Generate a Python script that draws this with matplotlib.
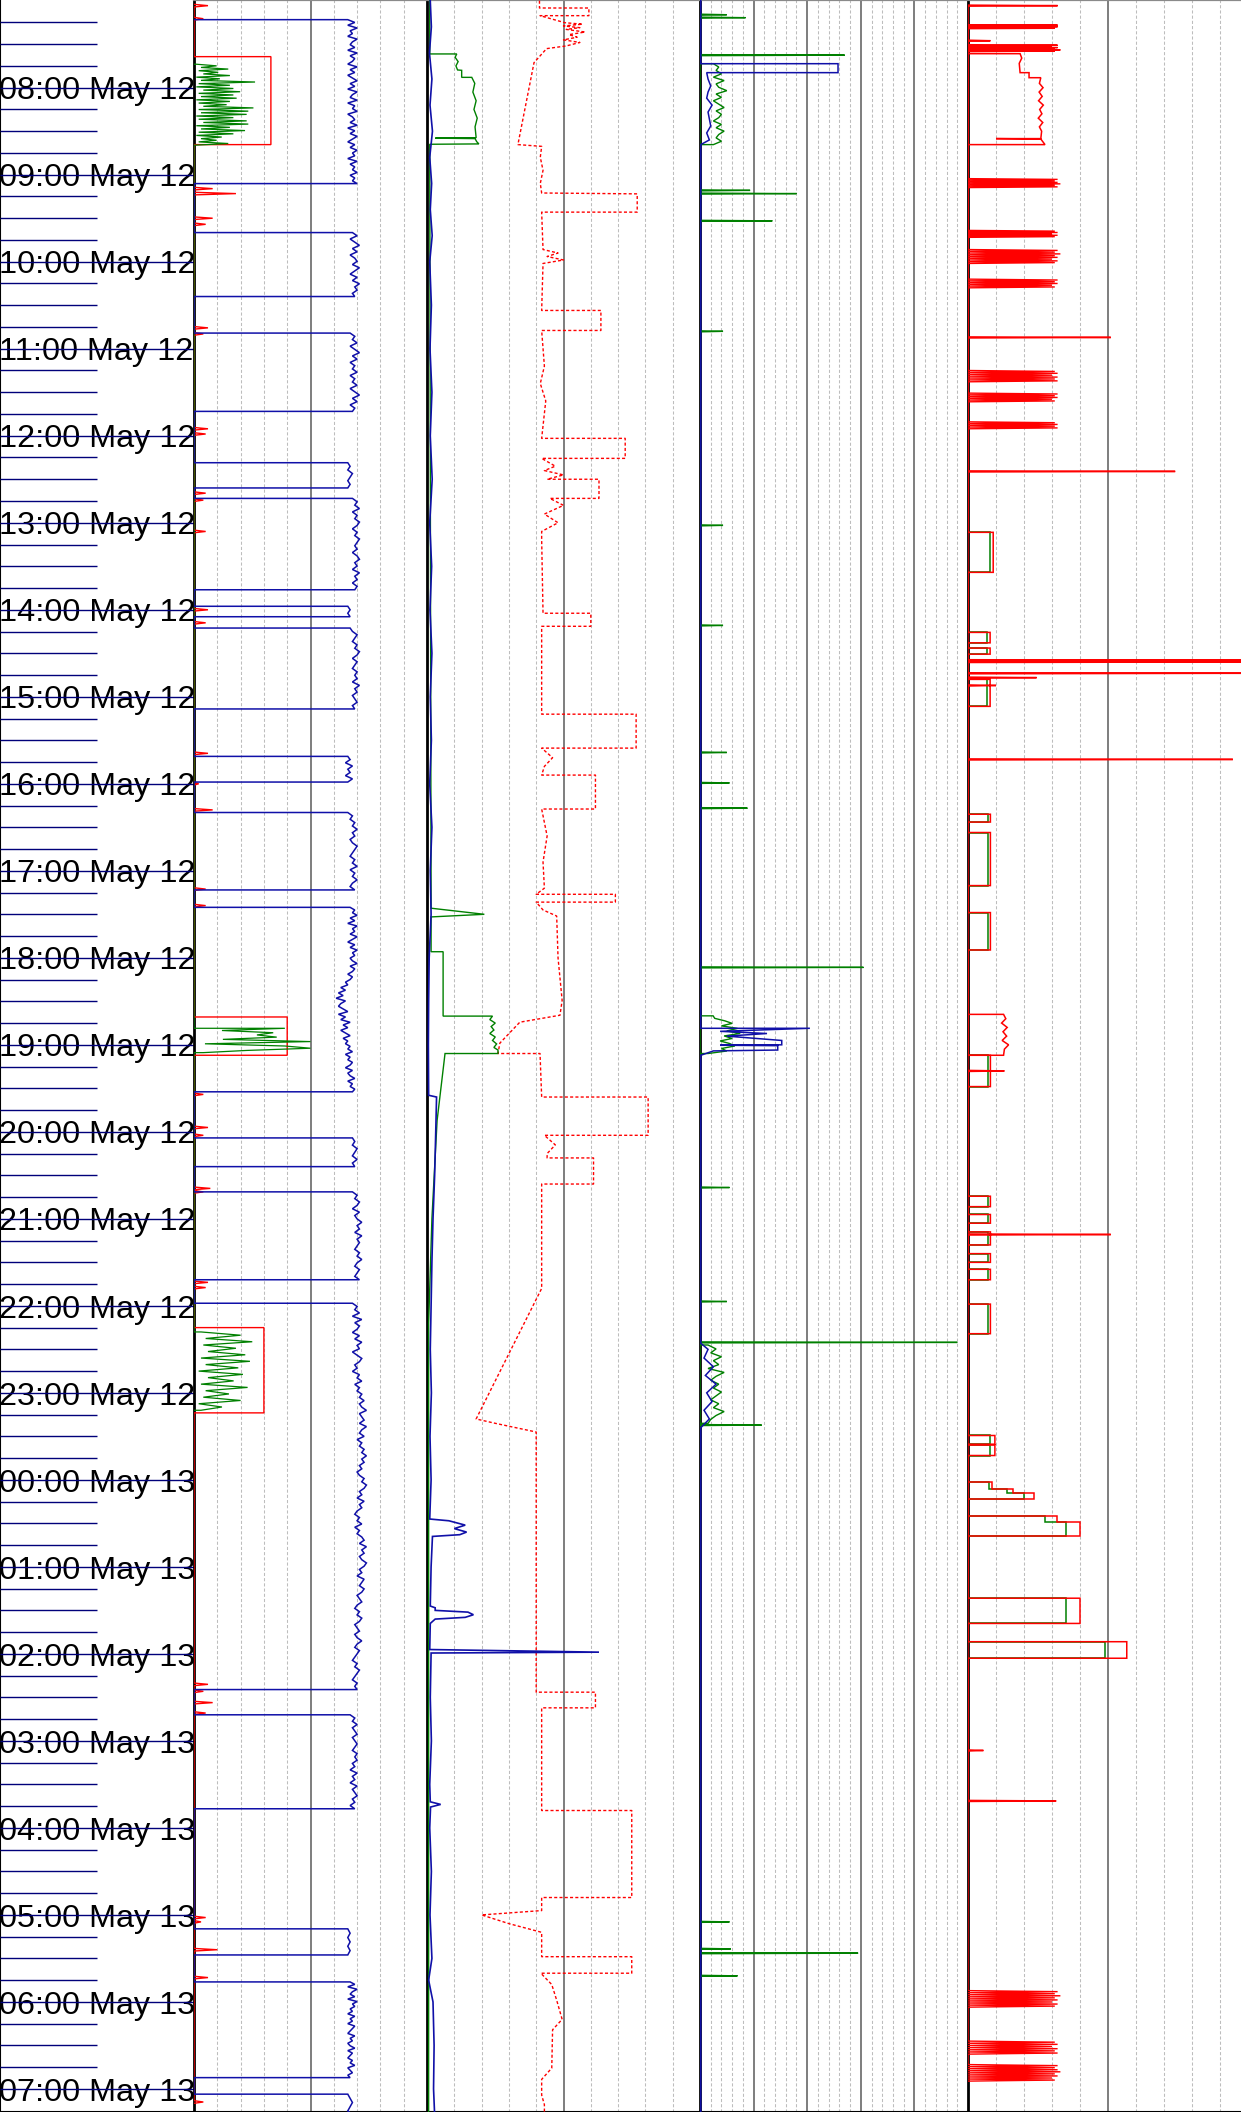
import numpy as np
import matplotlib
matplotlib.use("Agg")
import matplotlib.pyplot as plt

W, H = 1241, 2112
T_TOP, T_BOT = -0.008, 24.265   # hours after 07:00 May 12

# ---------------- time axis ----------------
hour_ticks = [float(h) for h in range(1, 25)]
hour_labels = ["08:00 May 12", "09:00 May 12", "10:00 May 12", "11:00 May 12",
               "12:00 May 12", "13:00 May 12", "14:00 May 12", "15:00 May 12",
               "16:00 May 12", "17:00 May 12", "18:00 May 12", "19:00 May 12",
               "20:00 May 12", "21:00 May 12", "22:00 May 12", "23:00 May 12",
               "00:00 May 13", "01:00 May 13", "02:00 May 13", "03:00 May 13",
               "04:00 May 13", "05:00 May 13", "06:00 May 13", "07:00 May 13"]
quarter_ticks = [0.25 * i for i in range(1, 97) if i % 4 != 0]

# ---------------- track 1 ----------------
p1_blue_on = [
    (0.218, 2.102, [66, 69, 66, 70, 67, 68, 66, 70, 68, 67, 69, 66, 70, 67, 69, 68, 66, 70, 67, 69,
                    66, 68, 70, 67, 69, 66, 70, 68, 67, 70, 66, 69, 68, 70, 66, 68, 69, 67, 70, 66,
                    69, 67, 70, 68, 66, 69, 67, 70, 68, 69, 66, 70, 67, 69, 68, 70, 67, 69, 68, 70]),
    (2.665, 3.40, [68, 70, 67, 69, 71, 68, 70, 67, 69, 70, 68, 71, 69, 67, 70, 68, 71, 69, 70, 68,
                   69]),
    (3.82, 4.72, [67, 69, 68, 70, 67, 69, 71, 68, 70, 67, 69, 68, 70, 67, 69, 68, 70, 67, 69, 71,
                  68, 70, 67, 69, 68]),
    (5.31, 5.60, [66, 67, 66, 68, 67, 66, 67, 66]),
    (5.72, 6.77, [68, 70, 69, 71, 68, 70, 69, 71, 70, 68, 70, 69, 71, 70, 69, 70, 68, 70, 71, 69,
                  70, 68, 71, 69, 70, 68, 70, 69]),
    (6.96, 7.08, [66, 67, 66, 67]),
    (7.21, 8.14, [67, 68, 70, 69, 68, 70, 69, 71, 70, 68, 70, 69, 68, 70, 69, 70, 68, 71, 69, 70,
                  68, 69, 70, 68, 69]),
    (8.685, 8.98, [66, 67, 65, 68, 66, 67, 65, 68, 66]),
    (9.33, 10.22, [66, 68, 67, 69, 68, 70, 68, 69, 67, 68, 70, 69, 68, 67, 69, 68, 70, 67, 69, 68,
                   70, 68, 67, 69]),
    (10.42, 12.54, [67, 69, 68, 70, 67, 69, 66, 70, 68, 69, 67, 70, 68, 66, 69, 67, 70, 68, 69, 67,
                    68, 70, 67, 69, 68, 66, 68, 67, 65, 66, 63, 65, 62, 64, 61, 65, 63, 62, 64, 66,
                    62, 65, 63, 67, 64, 66, 63, 65, 67, 64, 66, 65, 67, 66, 68, 65, 67, 66, 68, 67,
                    65, 68, 66, 67, 69, 66, 68, 67, 69, 68]),
    (13.07, 13.40, [68, 69, 68, 70, 69, 68, 70, 68, 69]),
    (13.69, 14.70, [68, 70, 69, 71, 70, 68, 71, 69, 70, 72, 70, 71, 69, 72, 70, 71, 70, 69, 71, 70,
                    72, 70, 69, 71, 70, 69, 71]),
    (14.97, 19.41, [68, 70, 69, 71, 68, 72, 69, 71, 70, 68, 71, 69, 72, 70, 71, 68, 70, 72, 71, 69,
                    70, 68, 71, 70, 72, 69, 71, 70, 72, 71, 73, 71, 72, 74, 71, 72, 73, 71, 74, 72,
                    71, 73, 70, 72, 71, 73, 72, 74, 72, 73, 71, 72, 70, 71, 73, 72, 74, 73, 71, 72,
                    70, 73, 71, 72, 70, 69, 71, 70, 72, 69, 71, 70, 72, 73, 71, 74, 72, 73, 71, 72,
                    74, 73, 71, 72, 70, 73, 72, 71, 73, 72, 70, 71, 72, 70, 69, 71, 70, 72, 71, 69,
                    70, 71, 69, 70, 72, 70, 69, 71, 70, 69, 68, 70, 69, 71, 70, 69, 68, 70, 69, 70]),
    (19.70, 20.78, [67, 69, 68, 70, 68, 69, 70, 68, 69, 70, 69, 68, 70, 69, 70, 68, 69, 67, 70, 68,
                    69, 67, 70, 68, 69, 70, 68, 69, 67, 69]),
    (22.16, 22.46, [66, 67, 66, 67, 66, 67, 66]),
    (22.77, 23.87, [67, 69, 66, 70, 68, 67, 69, 66, 70, 68, 69, 67, 68, 66, 69, 67, 68, 66, 69, 68,
                    67, 66, 69, 67, 68, 66, 67, 69, 66, 68, 67, 66, 68, 67, 69, 66, 67, 68, 66, 67]),
    (24.06, 24.30, [66, 67, 68, 67, 66, 68]),
]
p1_red_boxes = [(0.643, 1.654, 33.0), (11.68, 12.12, 40.0), (15.25, 16.23, 30.0)]
p1_red_spikes = [(0.057, 6), (0.207, 4), (2.16, 8), (2.217, 18), (2.50, 8), (2.57, 5), (3.76, 6),
                 (3.83, 4), (4.92, 6), (4.98, 5), (5.66, 5), (5.74, 4), (6.10, 5), (7.0, 6),
                 (7.15, 5), (8.65, 6), (9.0, 2), (9.30, 8), (10.21, 5), (10.40, 5), (12.57, 4),
                 (12.95, 6), (13.04, 4), (13.65, 7), (13.69, 4), (14.73, 6), (14.79, 5),
                 (19.35, 6), (19.43, 4), (19.56, 8), (19.68, 5), (22.03, 5), (22.08, 3),
                 (22.40, 10), (22.72, 6), (24.15, 4)]
p1_green_on = [
    (0.73, 1.66, [1, 9.7, 3, 14.7, 2, 10.4, 4, 15.4, 1, 11.1, 3, 26.2, 2, 15.4, 1, 16.9, 4, 19.8,
                  2, 16.9, 3, 18.3, 1, 15.4, 2, 14, 4, 25.5, 2, 23.3, 3, 22.6, 1, 16.9, 2, 22.6,
                  4, 23.3, 1, 15.4, 3, 21.9, 2, 16.9, 1, 11.9, 3, 9.7, 2, 14.7, 1]),
    (11.81, 12.09, [39, 12, 34, 27, 35.5, 12.4, 50, 4.7, 39, 50, 22.6, 3.9]),
    (15.30, 16.20, [3, 20, 5, 25, 4, 18, 6, 22, 3, 24, 5, 19, 2, 21, 6, 17, 3, 23, 5, 15, 4, 20,
                    2, 12, 3]),
]

# ---------------- track 2 ----------------
p2_blue = [(0.0, 1.2), (0.3, 1.6), (0.6, 0.9), (0.9, 1.8), (1.2, 1.1), (1.5, 2.0), (1.8, 1.0),
           (2.1, 1.7), (2.4, 1.2), (2.7, 1.9), (3.0, 1.0), (3.5, 1.6), (4.0, 1.1), (4.5, 1.8),
           (5.0, 1.2), (5.5, 1.9), (6.0, 1.0), (6.5, 1.7), (7.0, 1.1), (7.5, 1.8), (8.0, 1.2),
           (8.5, 1.6), (9.0, 1.0), (9.5, 1.8), (10.0, 1.2), (10.5, 1.5), (11.0, 0.8), (11.5, 0.6),
           (12.0, 0.5), (12.58, 0.6), (12.60, 3.5), (13.0, 3.2), (13.5, 2.8), (14.0, 2.2),
           (14.5, 1.8), (15.0, 1.5), (15.5, 1.2), (16.0, 1.6), (16.5, 1.1), (17.0, 1.5),
           (17.45, 1.0), (17.47, 8), (17.52, 14), (17.56, 10), (17.60, 14.5), (17.63, 12),
           (17.65, 2.0), (18.0, 1.5), (18.45, 1.2), (18.47, 3), (18.50, 3), (18.52, 15),
           (18.55, 17), (18.58, 14), (18.60, 3), (18.65, 1.2), (18.95, 1.0), (18.98, 63),
           (18.99, 1.5), (19.5, 1.2), (20.0, 1.6), (20.5, 1.0), (20.70, 1.2), (20.73, 5),
           (20.76, 1.3), (21.0, 1.0), (21.5, 1.6), (22.0, 1.1), (22.5, 1.8), (22.75, 0.6),
           (23.0, 2.2), (23.5, 2.6), (24.0, 2.4), (24.3, 2.8)]
p2_green = [(0.0, 1.0), (0.612, 1.0), (0.612, 10.9), (0.65, 10.3), (0.70, 11.4), (0.75, 10.6),
            (0.796, 11.2), (0.80, 12.7), (0.881, 12.7), (0.881, 16.4), (0.95, 17.5), (1.05, 16.8),
            (1.15, 18.0), (1.25, 17.2), (1.35, 18.4), (1.45, 17.6), (1.575, 18.0), (1.58, 3.0),
            (1.585, 17.6), (1.62, 18.2), (1.646, 19.0), (1.65, 1.0), (10.43, 1.5), (10.50, 21),
            (10.53, 1.5), (10.93, 1.5), (10.93, 5.9), (11.67, 5.9), (11.67, 24), (11.71, 23),
            (11.75, 25), (11.79, 23.5), (11.83, 24.5), (11.87, 23), (11.91, 25), (11.95, 24),
            (11.99, 25.5), (12.03, 24.5), (12.06, 26), (12.10, 26), (12.10, 6.6), (12.87, 3.7),
            (14.0, 1.8), (15.2, 0.6), (24.3, 0.6)]
p2_red = [(0.0, 41.2), (0.084, 41.2), (0.084, 59.3), (0.172, 59.3), (0.172, 41.4), (0.253, 50.5),
          (0.27, 57), (0.29, 50), (0.31, 56), (0.33, 51), (0.36, 57.9), (0.39, 52), (0.42, 55),
          (0.45, 50), (0.48, 56), (0.52, 51), (0.551, 43.8), (0.712, 39.2), (1.654, 33.3),
          (1.674, 42.0), (1.80, 41.5), (1.95, 42.5), (2.10, 41.5), (2.21, 42.0), (2.22, 77),
          (2.43, 77), (2.43, 42), (2.86, 42.5), (2.90, 48), (2.94, 44), (2.98, 50), (3.02, 42.5),
          (3.56, 42), (3.56, 63.7), (3.79, 63.7), (3.79, 42), (4.2, 43), (4.4, 41.5), (4.6, 43.5),
          (5.03, 42), (5.03, 72.6), (5.26, 72.6), (5.26, 42), (5.35, 47), (5.40, 43), (5.45, 50),
          (5.5, 44), (5.5, 63), (5.72, 63), (5.72, 45), (5.8, 50), (5.9, 43), (6.0, 48),
          (6.1, 42), (6.19, 42), (7.04, 42.5), (7.04, 60), (7.19, 60), (7.19, 42), (8.2, 42),
          (8.2, 76.6), (8.59, 76.6), (8.59, 42), (8.7, 46), (8.8, 43), (8.9, 42), (8.9, 61.7),
          (9.29, 61.7), (9.29, 42), (9.6, 44), (9.9, 42.5), (10.2, 43), (10.27, 40), (10.27, 69),
          (10.36, 69), (10.36, 40), (10.45, 42.5), (10.52, 47.5), (11.0, 48), (11.49, 49.5),
          (11.66, 48.7), (11.74, 34), (11.98, 26.7), (12.10, 26), (12.10, 41.4), (12.6, 42),
          (12.6, 81), (13.04, 81), (13.04, 43), (13.15, 47), (13.25, 44), (13.3, 44), (13.3, 61),
          (13.6, 61), (13.6, 42), (14.8, 42), (16.3, 18), (16.35, 25), (16.45, 40), (19.44, 40),
          (19.44, 61.7), (19.62, 61.7), (19.62, 42), (20.8, 42), (20.8, 75), (21.8, 75),
          (21.8, 42), (21.95, 42), (22.0, 20), (22.1, 30), (22.2, 42), (22.48, 42), (22.48, 75),
          (22.67, 75), (22.67, 41.7), (22.80, 45.7), (22.98, 47.5), (23.2, 49.5), (23.32, 46),
          (23.76, 45.7), (23.89, 42), (24.07, 42), (24.18, 43), (24.3, 43)]

# ---------------- track 3 ----------------
p3_green_spikes = [(0.161, 10), (0.195, 17), (0.626, 54), (2.18, 18.7), (2.217, 36), (2.53, 27),
                   (3.80, 8.6), (6.03, 8.6), (7.18, 8.6), (8.64, 10), (8.99, 11), (9.28, 17.7),
                   (11.11, 61), (13.64, 11), (14.95, 10), (15.42, 96), (16.37, 23), (22.08, 11),
                   (22.39, 11.5), (22.44, 59), (22.70, 14)]
p3_green_on = [
    (0.724, 1.654, [5, 7, 6, 8, 5, 9, 6, 7, 10, 6, 8, 5, 7, 9, 6, 8, 7, 5, 8, 6, 9, 7, 6, 8, 5]),
    (11.667, 12.10, [4.9, 5.5, 9.3, 12, 8, 14, 10, 15, 9, 12, 7.5, 11, 13, 8, 10, 3]),
    (15.45, 16.35, [3, 6, 4, 8, 5, 7, 3, 9, 6, 4, 7, 5, 8, 6, 4, 7, 5, 9, 6, 4, 3]),
]
p3_blue = [(0.0, 0.3), (0.724, 0.3), (0.724, 51.5), (0.827, 51.5), (0.827, 2.5), (0.90, 3.0),
           (0.98, 4.0), (1.05, 3.0), (1.12, 2.5), (1.20, 4.5), (1.28, 3.0), (1.36, 3.5),
           (1.44, 4.0), (1.52, 2.5), (1.60, 3.5), (1.654, 0.3), (11.81, 0.3), (11.81, 41),
           (11.845, 7.5), (11.87, 25), (11.90, 10), (11.95, 30.5), (12.00, 30.5), (12.005, 7.5),
           (12.01, 29), (12.06, 29), (12.07, 5), (12.12, 0.3), (15.43, 0.3), (15.5, 3),
           (15.6, 1.5), (15.7, 5), (15.8, 2), (15.9, 6), (16.0, 2.5), (16.1, 4.5), (16.2, 1.5),
           (16.3, 3.5), (16.40, 0.3), (24.3, 0.3)]

# ---------------- track 4 ----------------
p4_red_spikes = [(0.057, 32), (0.46, 8), (3.87, 51), (5.41, 74), (7.58, 100), (7.60, 100),
                 (7.73, 100), (7.78, 24.5), (7.87, 10), (8.72, 94.6), (12.30, 13), (14.18, 51),
                 (20.11, 5.5), (20.69, 31.5)]
p4_red_bands = [(0.276, 0.322, [32, 14, 32, 20, 31]),
                (0.505, 0.586, [32, 30, 32, 31, 33, 31]),
                (2.045, 2.148, [32, 31, 32, 33, 31, 32]),
                (2.64, 2.72, [31, 32, 30, 32, 31]),
                (2.86, 3.02, [32, 31, 33, 31, 32, 30, 32, 31]),
                (3.20, 3.30, [32, 31, 32, 30, 31]),
                (4.25, 4.38, [31, 32, 30, 32, 31, 32]),
                (4.51, 4.61, [32, 31, 32, 30, 31]),
                (4.84, 4.92, [31, 32, 31, 32]),
                (22.87, 23.06, [32, 31, 33, 31, 32, 30, 32, 31]),
                (23.45, 23.60, [31, 32, 30, 32, 31, 32]),
                (23.72, 23.91, [32, 31, 32, 33, 31, 32, 30, 31])]
p4_boxes = [(6.11, 6.57, 9.0, 8.0), (7.26, 7.38, 7.9, 6.7), (7.44, 7.51, 7.9, 6.7),
            (7.80, 8.11, 7.9, 6.7), (9.35, 9.44, 8.0, 7.0), (9.56, 10.17, 8.0, 7.0),
            (10.48, 10.91, 8.0, 7.0), (12.12, 12.48, 8.0, 7.0), (13.74, 13.86, 8.0, 7.0),
            (13.95, 14.05, 8.0, 7.0), (14.15, 14.30, 8.0, 7.0), (14.40, 14.50, 8.0, 7.0),
            (14.58, 14.70, 8.0, 7.0), (14.98, 15.32, 8.0, 7.0), (16.49, 16.59, 9.6, 8.0),
            (16.60, 16.72, 9.6, 8.0), (18.36, 18.65, 40.0, 35.0), (18.86, 19.05, 56.7, 49.0)]
p4_red_shapes = [
    [(0.609, 0), (0.609, 18.6), (0.66, 19.2), (0.72, 18.3), (0.827, 18.6), (0.827, 21.8),
     (0.885, 21.8), (0.885, 26), (0.95, 25.5), (1.0, 26.8), (1.05, 25.4), (1.1, 26.5),
     (1.15, 25.2), (1.2, 26.9), (1.25, 25.6), (1.3, 26.4), (1.35, 25.1), (1.4, 26.7),
     (1.45, 25.5), (1.5, 26.3), (1.585, 26), (1.585, 10), (1.59, 26), (1.654, 27.5), (1.654, 0)],
    [(11.65, 0), (11.65, 12.7), (11.70, 13.5), (11.75, 12.0), (11.80, 14.0), (11.85, 12.5),
     (11.90, 13.8), (11.95, 12.2), (12.0, 14.5), (12.05, 13.0), (12.12, 12.7), (12.12, 0)],
    [(17.03, 0), (17.03, 8.5), (17.10, 8.5), (17.10, 16), (17.15, 16), (17.15, 23.6),
     (17.22, 23.6), (17.22, 0)],
    [(17.41, 0), (17.41, 31.7), (17.48, 31.7), (17.48, 40), (17.65, 40), (17.65, 0)],
]
p4_green_shapes = [
    [(17.03, 0), (17.03, 7.5), (17.10, 7.5), (17.10, 14), (17.15, 14), (17.15, 20),
     (17.22, 20), (17.22, 0)],
    [(17.41, 0), (17.41, 27.5), (17.48, 27.5), (17.48, 35), (17.65, 35), (17.65, 0)],
]

# ================= helpers =================
def seg_points(t0, t1, vals):
    ts = np.linspace(t0, t1, len(vals))
    return list(zip(ts, vals))


def on_series(segments, base=0.0):
    pts = []
    for t0, t1, vals in segments:
        pts.append((t0, base))
        pts.extend(seg_points(t0, t1, vals))
        pts.append((t1, base))
    return pts


def spike_series(spikes, boxes=(), base=0.0, w=0.015):
    items = []
    for t, v in spikes:
        items.append((t, [(t - w, base), (t, v), (t + w, base)]))
    for t0, t1, v in boxes:
        items.append((t0, [(t0, base), (t0, v), (t1, v), (t1, base)]))
    items.sort(key=lambda a: a[0])
    pts = []
    for _, p in items:
        pts.extend(p)
    return pts


def band_series(bands, base=0.0):
    pts = []
    for t0, t1, vals in bands:
        ts = np.linspace(t0, t1, 2 * len(vals) + 1)
        for i, t in enumerate(ts):
            pts.append((t, vals[i // 2] if i % 2 == 1 else base))
    return pts


def draw(ax, pts, **kw):
    t = [p[0] for p in pts]
    v = [p[1] for p in pts]
    ax.plot(v, t, solid_joinstyle="miter", **kw)


# ================= figure =================
fig = plt.figure(figsize=(W / 100, H / 100), dpi=100)

axl = fig.add_axes([0, 0, 194 / W, 1])
axl.set_xlim(0, 194)
axl.set_ylim(T_BOT, T_TOP)
axl.set_xticks([])
axl.set_yticks([])
for s in ["top", "right"]:
    axl.spines[s].set_visible(False)
axl.spines["left"].set_linewidth(1.5)
axl.spines["bottom"].set_linewidth(1.5)
for h, lab in zip(hour_ticks, hour_labels):
    axl.text(-1.5, h + 0.134, lab, ha="left", va="baseline", fontsize=23.3,
             family=["Liberation Sans", "DejaVu Sans"], color="black", zorder=2)
axl.hlines(hour_ticks, 0, 194, color="#00007a", lw=1.0, zorder=3)
axl.hlines(quarter_ticks, 0, 97, color="#00007a", lw=1.0, zorder=3)

panels = [(194, 233, 10, 50), (427, 273, 10, 50), (700, 268, 4, 20), (968, 280, 10, 50)]
axes = []
for left, width, minor, major in panels:
    ax = fig.add_axes([left / W, 0, width / W, 1])
    ax.set_xlim(0, 100)
    ax.set_ylim(T_BOT, T_TOP)
    ax.set_xticks([])
    ax.set_yticks([])
    for x in np.arange(minor, 100 - 1e-6, minor):
        if abs(x / major - round(x / major)) < 1e-6:
            ax.axvline(x, color="#5a5a5a", lw=1.1, zorder=1)
        else:
            ax.axvline(x, color="#bdbdbd", lw=0.75, ls=(0, (3, 2)), zorder=1)
    ax.spines["right"].set_visible(False)
    ax.spines["left"].set_linewidth(2.0)
    ax.spines["left"].set_color("black")
    ax.spines["top"].set_color("#8a8a8a")
    ax.spines["top"].set_linewidth(1.6)
    ax.spines["bottom"].set_linewidth(1.5)
    ax.patch.set_alpha(0)
    axes.append(ax)

BLUE = "#1010a8"
GREEN = "#008000"
RED = "#ff0000"

ax1, ax2, ax3, ax4 = axes

draw(ax1, spike_series(p1_red_spikes, p1_red_boxes), color=RED, lw=1.0, zorder=3)
draw(ax1, on_series(p1_green_on), color=GREEN, lw=0.9, zorder=4)
draw(ax1, on_series(p1_blue_on), color=BLUE, lw=1.1, zorder=5)

draw(ax2, p2_red, color=RED, lw=1.0, ls=(0, (2.2, 1.6)), zorder=3)
draw(ax2, p2_green, color=GREEN, lw=1.0, zorder=4)
draw(ax2, p2_blue, color=BLUE, lw=1.2, zorder=5)

draw(ax3, spike_series(p3_green_spikes, w=0.006), color=GREEN, lw=1.0, zorder=4)
draw(ax3, on_series(p3_green_on), color=GREEN, lw=1.0, zorder=4)
draw(ax3, p3_blue, color=BLUE, lw=1.1, zorder=5)

box_red = [(t0, t1, r) for t0, t1, r, g in p4_boxes]
box_green = [(t0, t1, g) for t0, t1, r, g in p4_boxes]
draw(ax4, spike_series([], box_green), color=GREEN, lw=1.1, zorder=3)
for shp in p4_green_shapes:
    draw(ax4, shp, color=GREEN, lw=1.1, zorder=3)
draw(ax4, spike_series(p4_red_spikes, box_red, w=0.006), color=RED, lw=1.1, zorder=4)
draw(ax4, band_series(p4_red_bands), color=RED, lw=1.0, zorder=4)
for shp in p4_red_shapes:
    draw(ax4, shp, color=RED, lw=1.1, zorder=4)

fig.savefig("out.png", dpi=100)
